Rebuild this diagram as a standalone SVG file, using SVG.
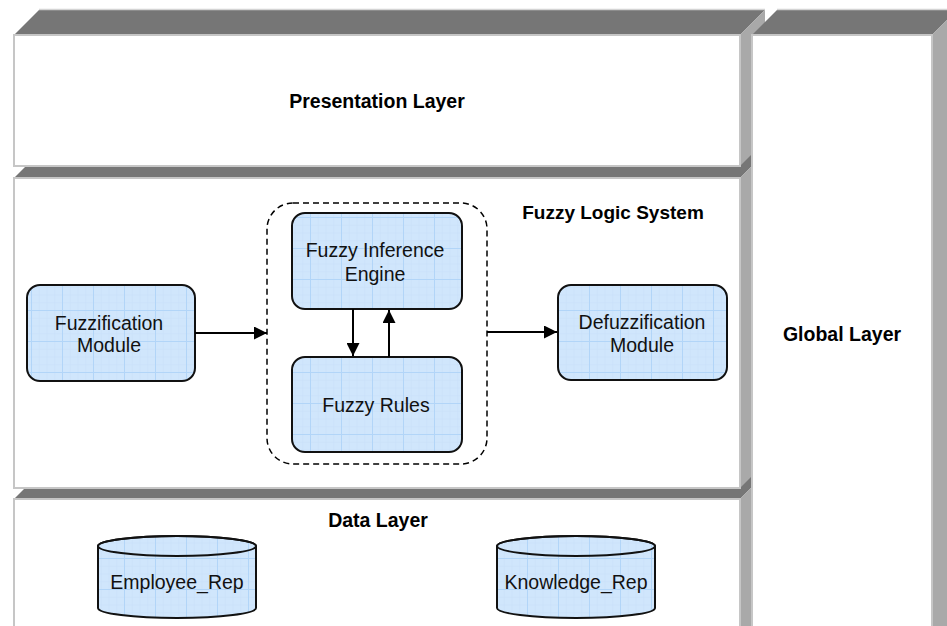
<svg xmlns="http://www.w3.org/2000/svg" width="947" height="626" viewBox="0 0 947 626">
<defs>
<pattern id="grid" patternUnits="userSpaceOnUse" width="31" height="31">
<rect width="31" height="31" fill="#d0e6fc"/>
<path d="M0,8.25H31M0,16H31M0,23.75H31M8.25,0V31M16,0V31M23.75,0V31" stroke="#c6def8" stroke-width="0.5" fill="none"/>
<path d="M0,0.5H31M0.5,0V31" stroke="#b2d5f8" stroke-width="1" fill="none"/>
</pattern>
<marker id="ah" viewBox="0 0 10 10" refX="10" refY="5" markerWidth="6.5" markerHeight="6.5" orient="auto" markerUnits="strokeWidth">
<path d="M0,0L10,5L0,10Z" fill="#000"/>
</marker>
<style>
.top{fill:#767676}
.side{fill:#a9a9a9}
.face{fill:#fff;stroke:#c6c6c6;stroke-width:2}
.edge{stroke:#d4d4d4;stroke-width:1.5;fill:none}
.lbl{font-family:"Liberation Sans",Arial,sans-serif;font-weight:bold;font-size:19.5px;fill:#000;text-anchor:middle}
.txt{font-family:"Liberation Sans",Arial,sans-serif;font-size:19.5px;fill:#111;text-anchor:middle}
.box{fill:url(#grid);stroke:#111;stroke-width:2}
.conn{stroke:#000;stroke-width:2;fill:none;marker-end:url(#ah)}
</style>
</defs>
<g id="data-layer">
<polygon class="top" points="14,499 39,474 765,474 740,499"/>
<polygon class="side" points="740,499 765,474 765,640 740,640"/>
<rect class="face" x="14" y="499" width="726" height="150"/>
<text class="lbl" x="378" y="527">Data Layer</text>
</g>
<g id="fuzzy-layer">
<polygon class="top" points="14,178 39,153 765,153 740,178"/>
<polygon class="side" points="740,178 765,153 765,463 740,488"/>
<rect class="face" x="14" y="178" width="726" height="310"/>
<text class="lbl" x="613" y="219" style="font-size:19px">Fuzzy Logic System</text>
</g>
<g id="presentation-layer">
<polygon class="top" points="14,35 39,10 765,10 740,35"/>
<line class="edge" x1="39" y1="9.5" x2="765" y2="9.5"/>
<polygon class="side" points="740,35 765,10 765,141 740,166"/>
<rect class="face" x="14" y="35" width="726" height="131"/>
<text class="lbl" x="377" y="108">Presentation Layer</text>
</g>
<g id="global-layer">
<polygon class="top" points="752,35 777,10 957,10 932,35"/>
<line class="edge" x1="777" y1="9.5" x2="947" y2="9.5"/>
<polygon class="side" points="932,35 957,10 957,640 932,640"/>
<rect class="face" x="752" y="35" width="180" height="610"/>
<text class="lbl" x="842" y="341">Global Layer</text>
</g>
<g id="inference-group">
<rect x="267" y="203" width="220" height="261" rx="26" fill="none" stroke="#000" stroke-width="1.5" stroke-dasharray="6,4"/>
</g>
<g id="fuzzification">
<rect class="box" x="27" y="285" width="168" height="96" rx="13"/>
<text class="txt" x="109" y="330">Fuzzification</text>
<text class="txt" x="109" y="352">Module</text>
</g>
<g id="inference-engine">
<rect class="box" x="292" y="213" width="170" height="96" rx="13"/>
<text class="txt" x="375" y="257">Fuzzy Inference</text>
<text class="txt" x="375" y="281">Engine</text>
</g>
<g id="fuzzy-rules">
<rect class="box" x="292" y="357" width="170" height="95" rx="13"/>
<text class="txt" x="376" y="412">Fuzzy Rules</text>
</g>
<g id="defuzzification">
<rect class="box" x="558" y="285" width="169" height="95" rx="13"/>
<text class="txt" x="642" y="329">Defuzzification</text>
<text class="txt" x="642" y="352">Module</text>
</g>
<g id="employee-rep">
<path class="box" d="M98,546 A79,10 0 0 1 256,546 L256,608 A79,10 0 0 1 98,608 Z"/>
<ellipse cx="177" cy="546" rx="79" ry="10" fill="none" stroke="#111" stroke-width="2"/>
<text class="txt" x="177" y="589">Employee_Rep</text>
</g>
<g id="knowledge-rep">
<path class="box" d="M497,546 A79,10 0 0 1 655,546 L655,608 A79,10 0 0 1 497,608 Z"/>
<ellipse cx="576" cy="546" rx="79" ry="10" fill="none" stroke="#111" stroke-width="2"/>
<text class="txt" x="576" y="589">Knowledge_Rep</text>
</g>
<g id="connectors">
<line class="conn" x1="195" y1="333" x2="267" y2="333"/>
<line class="conn" x1="487" y1="332" x2="557" y2="332"/>
<line class="conn" x1="353" y1="309" x2="353" y2="356"/>
<line class="conn" x1="389" y1="357" x2="389" y2="310"/>
</g>
</svg>
